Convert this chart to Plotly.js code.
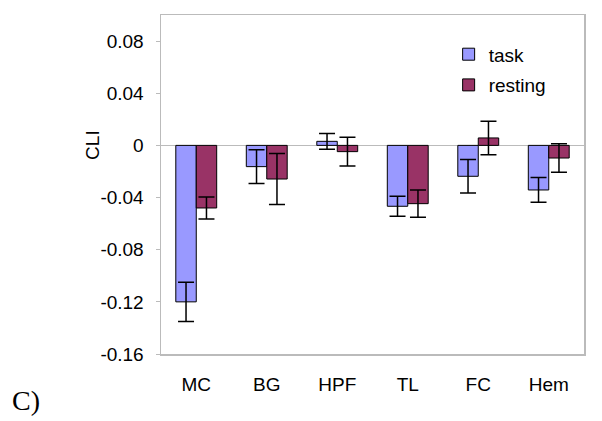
<!DOCTYPE html>
<html>
<head>
<meta charset="utf-8">
<script src="https://cdn.plot.ly/plotly-3.0.1.min.js"></script>
<style>html,body{margin:0;padding:0;background:#fff;}#chart{width:602px;height:421px;}</style>
</head>
<body>
<div id="chart"></div>
<script>
const categories = ["MC", "BG", "HPF", "TL", "FC", "Hem"];
const taskValues = [-0.120, -0.0163, 0.0031, -0.0467, -0.0237, -0.0342];
const taskErrors = [0.015, 0.013, 0.006, 0.0077, 0.0128, 0.0095];
const restingValues = [-0.048, -0.0258, -0.0048, -0.0447, 0.0057, -0.0097];
const restingErrors = [0.0085, 0.0195, 0.011, 0.0105, 0.0128, 0.011];
const yTicks = [0.08, 0.04, 0, -0.04, -0.08, -0.12, -0.16];

const font = "Liberation Sans, Arial, sans-serif";

const traces = [
  {
    type: "bar", name: "task", x: categories, y: taskValues,
    marker: {color: "#9999FF", line: {color: "#000", width: 1}},
    error_y: {type: "data", array: taskErrors, visible: true, color: "#000", thickness: 1.5, width: 8},
    legendgroup: "a"
  },
  {
    type: "bar", name: "resting", x: categories, y: restingValues,
    marker: {color: "#993366", line: {color: "#000", width: 1}},
    error_y: {type: "data", array: restingErrors, visible: true, color: "#000", thickness: 1.5, width: 8},
    legendgroup: "b"
  }
];

const layout = {
  width: 602, height: 421,
  margin: {l: 161, r: 18, t: 15, b: 67},
  paper_bgcolor: "#fff", plot_bgcolor: "#fff",
  font: {family: font, size: 19, color: "#000"},
  barmode: "group", bargap: 0.42, bargroupgap: 0,
  showlegend: true,
  legend: {x: 0.68, y: 0.94, xanchor: "left", yanchor: "top", bgcolor: "rgba(0,0,0,0)",
           font: {family: font, size: 19}, tracegroupgap: 3},
  xaxis: {
    showline: true, linecolor: "#BBBBBB", linewidth: 1.5, mirror: true,
    ticks: "", showgrid: false, zeroline: false,
    tickfont: {family: font, size: 19}, ticklabelstandoff: 13
  },
  yaxis: {
    range: [-0.16, 0.1], tickvals: yTicks, ticktext: yTicks.map(String),
    showline: true, linecolor: "#BBBBBB", linewidth: 1.5, mirror: true,
    ticks: "outside", ticklen: 4, tickcolor: "#BBBBBB",
    showgrid: false, zeroline: true, zerolinecolor: "#BBBBBB", zerolinewidth: 1.5,
    tickfont: {family: font, size: 19}, ticklabelstandoff: 8
  },
  annotations: [
    {text: "CLI", xref: "paper", yref: "y", x: 0, y: 0, xshift: -81, textangle: -90,
     showarrow: false, font: {family: font, size: 19}},
    {text: "C)", xref: "paper", yref: "paper", x: 0, y: 0, xshift: -151, yshift: -46,
     xanchor: "left", yanchor: "middle", showarrow: false,
     font: {family: "Liberation Serif, Times New Roman, serif", size: 28}}
  ]
};

Plotly.newPlot("chart", traces, layout, {displayModeBar: false, staticPlot: true});
</script>
</body>
</html>
